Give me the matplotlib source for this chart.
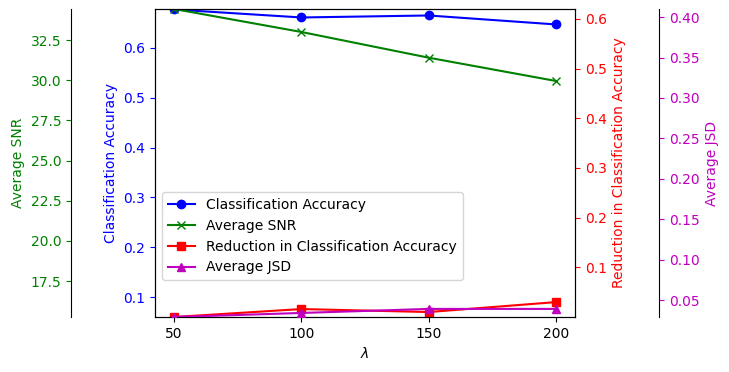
import matplotlib
matplotlib.use("Agg")
import matplotlib.pyplot as plt

lambdas = [50, 100, 150, 200]
accuracy = [0.677, 0.661, 0.665, 0.647]
snr = [34.43, 33.0, 31.4, 29.95]
reduction = [0.0, 0.016, 0.010, 0.030]
jsd = [0.029, 0.034, 0.039, 0.039]

fig = plt.figure(figsize=(7.29, 3.72), dpi=100)
ax = fig.add_axes([155/729, 1-317/372, 420/729, 308/372])

l1, = ax.plot(lambdas, accuracy, 'b-o', label='Classification Accuracy')
ax.set_ylim(0.06, 0.678)
ax.set_ylabel('Classification Accuracy', color='b')
ax.tick_params(axis='y', colors='b')
ax.set_xlabel(r'$\lambda$')
ax.set_xticks(lambdas)

ax_snr = ax.twinx()
ax_snr.spines['right'].set_position(('axes', -0.2))
ax_snr.yaxis.set_ticks_position('left')
ax_snr.yaxis.set_label_position('left')
for s in ['top', 'bottom', 'right']:
    ax_snr.spines[s].set_visible(False)
ax_snr.spines['left'].set_visible(True)
ax_snr.spines['left'].set_position(('axes', -0.2))
l2, = ax_snr.plot(lambdas, snr, 'g-x', label='Average SNR')
ax_snr.set_ylim(15.26, 34.43)
ax_snr.set_ylabel('Average SNR', color='g')
ax_snr.tick_params(axis='y', colors='g')

ax_red = ax.twinx()
l3, = ax_red.plot(lambdas, reduction, 'r-s', label='Reduction in Classification Accuracy')
ax_red.set_ylim(0.0, 0.62)
ax_red.set_yticks([0.1, 0.2, 0.3, 0.4, 0.5, 0.6])
ax_red.set_ylabel('Reduction in Classification Accuracy', color='r')
ax_red.tick_params(axis='y', colors='r')

ax_jsd = ax.twinx()
ax_jsd.spines['right'].set_position(('axes', 1.2))
for s in ['top', 'bottom', 'left']:
    ax_jsd.spines[s].set_visible(False)
l4, = ax_jsd.plot(lambdas, jsd, 'm-^', label='Average JSD')
ax_jsd.set_ylim(0.029, 0.41)
ax_jsd.set_ylabel('Average JSD', color='m')
ax_jsd.tick_params(axis='y', colors='m')

for a in [ax_snr, ax_red, ax_jsd]:
    a.tick_params(axis='y', which='both')
ax_snr.yaxis.label.set_color('g')

lines = [l1, l2, l3, l4]
ax.legend(lines, [l.get_label() for l in lines], loc='lower left',
          bbox_to_anchor=(0.0167, 0.12), borderaxespad=0)

fig.savefig('out.png', dpi=100)
